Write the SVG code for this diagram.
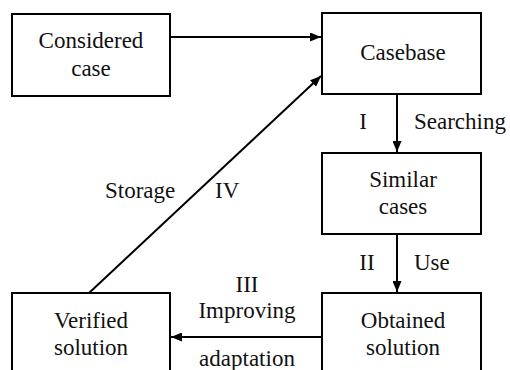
<svg xmlns="http://www.w3.org/2000/svg" width="510" height="370" viewBox="0 0 510 370">
<style>
.box{fill:#fff;stroke:#000;stroke-width:2}
.ln{stroke:#000;stroke-width:2;fill:none}
text{font-family:"Liberation Serif","Times New Roman",serif;font-size:23px;fill:#111}
</style>
<defs>
<marker id="ah" viewBox="0 0 10 10" refX="10" refY="5" markerWidth="11" markerHeight="9" markerUnits="userSpaceOnUse" orient="auto" preserveAspectRatio="none">
<path d="M0,0 L10,5 L0,10 z" fill="#000"/>
</marker>
</defs>
<rect width="510" height="370" fill="#fff"/>
<g id="connectors">
<line class="ln" x1="171" y1="37" x2="321" y2="37" marker-end="url(#ah)"/>
<line class="ln" x1="397" y1="94" x2="397" y2="152" marker-end="url(#ah)"/>
<line class="ln" x1="397" y1="234" x2="397" y2="292" marker-end="url(#ah)"/>
<line class="ln" x1="322" y1="337" x2="171" y2="337" marker-end="url(#ah)"/>
<line class="ln" x1="89" y1="293" x2="321" y2="76" marker-end="url(#ah)"/>
<text x="363" y="129" text-anchor="middle" font-family="Liberation Serif">I</text>
<text x="414" y="129" font-family="Liberation Serif">Searching</text>
<text x="105" y="198" font-family="Liberation Serif">Storage</text>
<text x="215" y="198" font-family="Liberation Serif">IV</text>
<text x="367" y="270" text-anchor="middle" font-family="Liberation Serif">II</text>
<text x="414" y="270" font-family="Liberation Serif">Use</text>
<text x="247" y="292" text-anchor="middle" font-family="Liberation Serif">III</text>
<text x="247" y="318" text-anchor="middle" font-family="Liberation Serif">Improving</text>
<text x="247" y="366" text-anchor="middle" font-family="Liberation Serif">adaptation</text>
</g>
<g id="considered">
<rect class="box" x="12" y="14" width="158" height="82"/>
<text x="91" y="48" text-anchor="middle" font-family="Liberation Serif">Considered</text>
<text x="91" y="76" text-anchor="middle" font-family="Liberation Serif">case</text>
</g>
<g id="casebase">
<rect class="box" x="322" y="13" width="159" height="81"/>
<text x="403" y="60" text-anchor="middle" font-family="Liberation Serif">Casebase</text>
</g>
<g id="similar">
<rect class="box" x="322" y="153" width="159" height="81"/>
<text x="403" y="187" text-anchor="middle" font-family="Liberation Serif">Similar</text>
<text x="403" y="214" text-anchor="middle" font-family="Liberation Serif">cases</text>
</g>
<g id="obtained">
<rect class="box" x="322" y="293" width="159" height="90"/>
<text x="403" y="328" text-anchor="middle" font-family="Liberation Serif">Obtained</text>
<text x="403" y="355" text-anchor="middle" font-family="Liberation Serif">solution</text>
</g>
<g id="verified">
<rect class="box" x="12" y="293" width="158" height="90"/>
<text x="91" y="328" text-anchor="middle" font-family="Liberation Serif">Verified</text>
<text x="91" y="355" text-anchor="middle" font-family="Liberation Serif">solution</text>
</g>
</svg>
